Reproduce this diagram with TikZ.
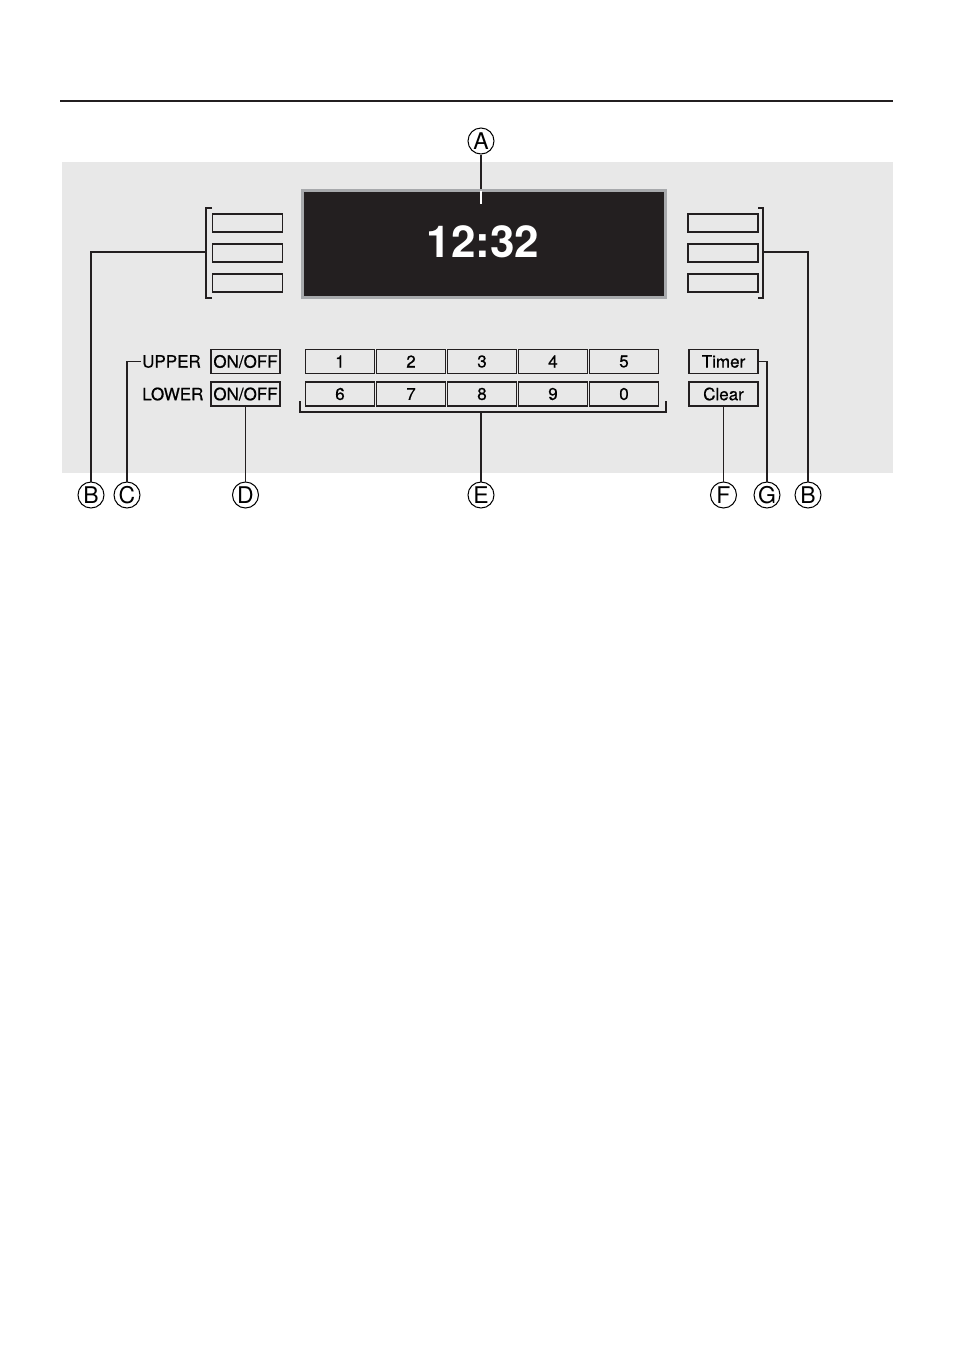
\documentclass[tikz,border=0pt]{standalone}
\usepackage{fontspec}
\setmainfont{TeX Gyre Heros}
\newfontfamily\keyfont[FakeBold=0.6]{TeX Gyre Heros}
\usetikzlibrary{positioning, calc}
\definecolor{panelgray}{HTML}{E8E8E8}
\definecolor{displayblack}{HTML}{231F20}
\definecolor{framegray}{HTML}{A7A9AC}
\definecolor{inkgray}{HTML}{231F20}

\begin{document}
\begin{tikzpicture}[x=1pt, y=-1pt,
    key/.style={draw=inkgray, line width=1.6pt, fill=panelgray, minimum width=69pt, minimum height=24pt, inner sep=0pt, font=\keyfont\fontsize{17}{19}\selectfont},
    softkey/.style={draw=inkgray, line width=1.6pt, minimum width=70pt, minimum height=18pt, inner sep=0pt},
    callout/.style={circle, draw=black, line width=1pt, minimum size=26pt, inner sep=0pt, font=\fontsize{23}{24}\selectfont},
    lead/.style={line width=1.5pt, draw=inkgray}]
  \useasboundingbox (0,0) rectangle (954,1350);
  % Regla superior
  \draw[line width=1.6pt, inkgray] (60,101) -- (893,101);
  % Panel
  \fill[panelgray] (62,162) rectangle (893,473);
  % Display
  \node[draw=framegray, fill=displayblack, line width=2.5pt, minimum width=363pt, minimum height=107pt, inner sep=0pt] (display) at (484,244) {};
  \node[text=white, font=\fontsize{44}{46}\selectfont\bfseries] (clock) at (483,241.5) {12:32};
  % Teclas laterales
  \foreach \i/\y in {1/223, 2/253, 3/283} {
    \node[softkey] (lkey\i) at (247.5,\y) {};
    \node[softkey] (rkey\i) at (723,\y) {};
  }
  \draw[lead] (212,208) -- (206,208) -- (206,298) -- (212,298);
  \draw[lead] (758,208) -- (763,208) -- (763,298) -- (758,298);
  \coordinate (lbrace) at (206,252);
  \coordinate (rbrace) at (763,252);
  % Zonas
  \node[anchor=west, inner sep=1pt, font=\keyfont\fontsize{17}{19}\selectfont] (upperlbl) at (141,361.5) {UPPER};
  \node[anchor=west, inner sep=1pt, font=\keyfont\fontsize{17}{19}\selectfont] (lowerlbl) at (141,394) {LOWER};
  \node[key] (upperonoff) at (245.5,361.5) {ON/OFF};
  \node[key] (loweronoff) at (245.5,394) {ON/OFF};
  % Teclado numerico
  \foreach \n [count=\i from 0] in {1,2,3,4,5} {
    \node[key] (num\n) at (340+71*\i,361.5) {\n};
  }
  \foreach \n [count=\i from 0] in {6,7,8,9,0} {
    \node[key] (num\n) at (340+71*\i,394) {\n};
  }
  \draw[lead] (300,401) -- (300,412) -- (666,412) -- (666,401);
  \coordinate (ebrace) at (481,412);
  % Timer / Clear
  \node[key] (timer) at (723.5,361.5) {Timer};
  \node[key] (clear) at (723.5,394) {Clear};
  % Leyendas
  \node[callout] (A) at (481,141) {A};
  \node[callout] (B1) at (91,495) {B};
  \node[callout] (C) at (127,495) {C};
  \node[callout] (D) at (245.5,495) {D};
  \node[callout] (E) at (481,495) {E};
  \node[callout] (F) at (723.5,495) {F};
  \node[callout] (G) at (767,495) {G};
  \node[callout] (B2) at (808,495) {B};
  % Lineas de referencia
  \draw[lead] (A) -- (display.north -| A);
  \draw[line width=1.5pt, white] ($(display.north -| A)+(0,2)$) -- ($(display.north -| A)+(0,15)$);
  \draw[lead] (lbrace) -| (B1);
  \draw[lead] (upperlbl.west) -| (C);
  \draw[lead] (loweronoff) -- (D);
  \draw[lead] (ebrace) -- (E);
  \draw[lead] (clear) -- (F);
  \draw[lead] (timer.east) -| (G);
  \draw[lead] (rbrace) -| (B2);
\end{tikzpicture}
\end{document}
